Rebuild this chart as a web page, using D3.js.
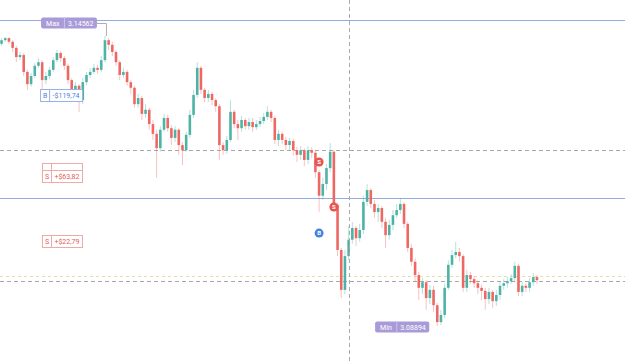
<!DOCTYPE html>
<html>
<head>
<meta charset="utf-8">
<script src="https://cdn.jsdelivr.net/npm/d3@7"></script>
<style>
  body { margin: 0; background: #fff; }
  svg { display: block; font-family: Roboto, "Noto Sans", sans-serif; }
</style>
</head>
<body>
<svg width="625" height="363"></svg>
<script>
// OHLC, one entry per candle
const open = [
  3.1441,3.1448,3.1452,3.1445,3.1433,3.1415,3.1419,3.1386,3.1362,3.1378,
  3.1398,3.1405,3.1370,3.1378,3.1390,3.1409,3.1423,3.1413,3.1398,3.1370,
  3.1351,3.1359,3.1331,3.1366,3.1380,3.1386,3.1394,3.1390,3.1409,3.1448,
  3.1439,3.1425,3.1405,3.1380,3.1386,3.1366,3.1355,3.1323,3.1335,3.1304,
  3.1312,3.1284,3.1265,3.1237,3.1273,3.1296,3.1276,3.1257,3.1273,3.1243,
  3.1233,3.1263,3.1302,3.1341,3.1394,3.1351,3.1335,3.1343,3.1331,3.1319,
  3.1243,3.1233,3.1253,3.1308,3.1284,3.1276,3.1292,3.1280,3.1288,3.1278,
  3.1284,3.1290,3.1298,3.1308,3.1296,3.1253,3.1265,3.1253,3.1243,3.1251,
  3.1233,3.1224,3.1233,3.1214,3.1233,3.1228,3.1190,3.1144,3.1167,3.1198,
  3.1230,3.1126,3.1038,3.0960,3.1026,3.1058,3.1081,3.1061,3.1077,3.1132,
  3.1155,3.1128,3.1112,3.1120,3.1093,3.1067,3.1087,3.1106,3.1116,3.1128,
  3.1089,3.1042,3.1015,3.0989,3.0964,3.0975,3.0944,3.0960,3.0930,3.0897,
  3.0911,3.0964,3.1009,3.1028,3.1034,3.1026,3.0964,3.0989,3.0981,3.0973,
  3.0964,3.0958,3.0942,3.0956,3.0938,3.0950,3.0968,3.0973,3.0977,3.0983,
  3.1007,3.0956,3.0968,3.0964,3.0975,3.0985
];
const high = [
  3.1452,3.1454,3.1454,3.1448,3.1437,3.1425,3.1423,3.1390,3.1384,3.1403,
  3.1413,3.1409,3.1386,3.1396,3.1415,3.1429,3.1427,3.1417,3.1402,3.1374,
  3.1366,3.1362,3.1374,3.1386,3.1394,3.1402,3.1400,3.1417,3.14562,3.1452,
  3.1445,3.1429,3.1409,3.1394,3.1390,3.1370,3.1359,3.1343,3.1339,3.1323,
  3.1316,3.1292,3.1273,3.1280,3.1304,3.1302,3.1282,3.1280,3.1276,3.1249,
  3.1269,3.1312,3.1351,3.1405,3.1398,3.1355,3.1351,3.1347,3.1335,3.1323,
  3.1249,3.1261,3.1331,3.1312,3.1292,3.1300,3.1296,3.1296,3.1296,3.1292,
  3.1298,3.1306,3.1319,3.1312,3.1300,3.1273,3.1269,3.1259,3.1257,3.1255,
  3.1239,3.1241,3.1237,3.1241,3.1239,3.1233,3.1194,3.1179,3.1206,3.1247,
  3.1233,3.1130,3.1042,3.1038,3.1085,3.1093,3.1085,3.1089,3.1144,3.1167,
  3.1159,3.1136,3.1128,3.1124,3.1101,3.1097,3.1116,3.1128,3.1140,3.1132,
  3.1093,3.1050,3.1022,3.0995,3.0983,3.0979,3.0970,3.0968,3.0934,3.0921,
  3.0972,3.1018,3.1038,3.1054,3.1042,3.1030,3.0999,3.0995,3.0987,3.0979,
  3.0970,3.0964,3.0964,3.0960,3.0960,3.0975,3.0981,3.0985,3.0991,3.1015,
  3.1011,3.0975,3.0973,3.0983,3.0993,3.0989
];
const low = [
  3.1437,3.1445,3.1441,3.1425,3.1405,3.1409,3.1378,3.1351,3.1357,3.1374,
  3.1394,3.1345,3.1362,3.1372,3.1386,3.1405,3.1405,3.1390,3.1362,3.1331,
  3.1341,3.1308,3.1323,3.1360,3.1374,3.1382,3.1382,3.1386,3.1405,3.1429,
  3.1417,3.1398,3.1370,3.1374,3.1359,3.1343,3.1316,3.1316,3.1292,3.1296,
  3.1273,3.1253,3.1179,3.1230,3.1269,3.1269,3.1243,3.1249,3.1224,3.1204,
  3.1230,3.1257,3.1296,3.1335,3.1343,3.1327,3.1327,3.1321,3.1308,3.1214,
  3.1224,3.1226,3.1249,3.1276,3.1253,3.1269,3.1273,3.1273,3.1269,3.1273,
  3.1278,3.1284,3.1292,3.1288,3.1245,3.1241,3.1245,3.1233,3.1233,3.1222,
  3.1210,3.1214,3.1202,3.1206,3.1218,3.1179,3.1112,3.1136,3.1155,3.1190,
  3.1116,3.1026,3.0944,3.0952,3.1018,3.1050,3.1046,3.1054,3.1069,3.1124,
  3.1120,3.1101,3.1093,3.1081,3.1042,3.1058,3.1077,3.1101,3.1108,3.1081,
  3.1034,3.1007,3.0975,3.0940,3.0952,3.0921,3.0932,3.0917,3.08894,3.0891,
  3.0905,3.0960,3.1003,3.1022,3.1015,3.0956,3.0956,3.0972,3.0964,3.0952,
  3.0940,3.0921,3.0932,3.0925,3.0929,3.0940,3.0960,3.0964,3.0972,3.0975,
  3.0948,3.0948,3.0956,3.0956,3.0968,3.0972
];
const close = [
  3.1448,3.1452,3.1445,3.1433,3.1415,3.1419,3.1386,3.1362,3.1378,3.1398,
  3.1405,3.1370,3.1378,3.1390,3.1409,3.1423,3.1413,3.1398,3.1370,3.1351,
  3.1359,3.1331,3.1366,3.1380,3.1386,3.1394,3.1390,3.1409,3.1448,3.1439,
  3.1425,3.1405,3.1380,3.1386,3.1366,3.1355,3.1323,3.1335,3.1304,3.1312,
  3.1284,3.1265,3.1237,3.1273,3.1296,3.1276,3.1257,3.1273,3.1243,3.1233,
  3.1263,3.1302,3.1341,3.1394,3.1351,3.1335,3.1343,3.1331,3.1319,3.1243,
  3.1233,3.1253,3.1308,3.1284,3.1276,3.1292,3.1280,3.1288,3.1278,3.1284,
  3.1290,3.1298,3.1308,3.1296,3.1253,3.1265,3.1253,3.1243,3.1251,3.1233,
  3.1224,3.1233,3.1214,3.1233,3.1228,3.1190,3.1144,3.1167,3.1198,3.1230,
  3.1126,3.1038,3.0960,3.1026,3.1058,3.1081,3.1061,3.1077,3.1132,3.1155,
  3.1128,3.1112,3.1120,3.1093,3.1067,3.1087,3.1106,3.1116,3.1128,3.1089,
  3.1042,3.1015,3.0989,3.0964,3.0975,3.0944,3.0960,3.0930,3.0897,3.0911,
  3.0964,3.1009,3.1028,3.1034,3.1026,3.0964,3.0989,3.0981,3.0973,3.0964,
  3.0958,3.0942,3.0956,3.0938,3.0950,3.0968,3.0973,3.0977,3.0983,3.1007,
  3.0956,3.0968,3.0964,3.0975,3.0985,3.0979
];

// horizontal levels
const alertLevels = [3.1488, 3.1140];
const orderLevels = [3.1233, 3.0977];
const lastPrice = 3.0987;
const crosshairIndex = 94;

// open positions (P&L tags on the left); stack = tags piled on one level
const positionSide = ["B", "S", "S"];
const positionPnl = ["-$119,74", "+$63,82", "+$22,79"];
const positionPrice = [3.1341, 3.1183, 3.1056];
const positionStack = [1, 2, 1];

// executions drawn on the bars
const tradeSide = ["S", "S", "B"];
const tradeIndex = [86, 90, 86];
const tradePrice = [3.1210, 3.1122, 3.1071];

const svg = d3.select("svg"),
  width = +svg.attr("width"),
  height = +svg.attr("height");

const data = close.map((c, i) => ({ i, o: open[i], h: high[i], l: low[i], c }));

const x = d3.scaleBand()
  .domain(data.map(d => d.i))
  .range([-0.85, 539.35])
  .padding(0.3);
const cx = i => x(i) + x.bandwidth() / 2;

const y = d3.scaleLinear()
  .domain([d3.min(low), d3.max(high)])
  .range([326, 36]);

const upColor = "#4cb3a5", downColor = "#ee6763";
const candleColor = d => (d.c >= d.o ? upColor : downColor);

svg.append("rect").attr("width", width).attr("height", height).attr("fill", "#fff");

// levels
const levels = svg.append("g");
levels.selectAll(".alert").data(alertLevels).join("line")
  .attr("x1", 0).attr("x2", width)
  .attr("y1", d => Math.round(y(d)) + 0.5).attr("y2", d => Math.round(y(d)) + 0.5)
  .attr("stroke", "#92acdf").attr("stroke-width", 1);
levels.selectAll(".order").data(orderLevels).join("line")
  .attr("x1", 0).attr("x2", width)
  .attr("y1", d => Math.round(y(d)) + 0.5).attr("y2", d => Math.round(y(d)) + 0.5)
  .attr("stroke", "#a8a8a8").attr("stroke-dasharray", "4,3");
levels.append("line")
  .attr("x1", 0).attr("x2", width)
  .attr("y1", Math.round(y(lastPrice)) + 0.5).attr("y2", Math.round(y(lastPrice)) + 0.5)
  .attr("stroke", "#ecdcaa").attr("stroke-dasharray", "3,3");

// candles
const candle = svg.append("g").selectAll("g").data(data).join("g");
candle.append("line")
  .attr("x1", d => cx(d.i)).attr("x2", d => cx(d.i))
  .attr("y1", d => y(d.h)).attr("y2", d => y(d.l))
  .attr("stroke", candleColor).attr("stroke-opacity", 0.4);
candle.append("rect")
  .attr("x", d => x(d.i))
  .attr("width", x.bandwidth())
  .attr("y", d => y(Math.max(d.o, d.c)))
  .attr("height", d => Math.max(1, Math.abs(y(d.o) - y(d.c))))
  .attr("fill", candleColor);

// crosshair
svg.append("line")
  .attr("x1", Math.round(cx(crosshairIndex)) + 0.5).attr("x2", Math.round(cx(crosshairIndex)) + 0.5)
  .attr("y1", 0).attr("y2", height)
  .attr("stroke", "#ababab").attr("stroke-dasharray", "4,3");

// Max / Min tags
const extremeTag = (name, value, right, cy) => {
  const g = svg.append("g");
  const t1 = g.append("text").text(name).attr("font-size", 7).attr("fill", "#fff").attr("y", cy + 2.5);
  const t2 = g.append("text").text(value).attr("font-size", 7).attr("fill", "#fff").attr("y", cy + 2.5);
  const w1 = t1.node().getComputedTextLength() + 10;
  const w2 = t2.node().getComputedTextLength() + 7;
  const left = right - w1 - w2;
  g.insert("rect", "text")
    .attr("x", left).attr("y", cy - 5.5).attr("width", w1 + w2).attr("height", 11)
    .attr("rx", 2).attr("fill", "#a99bd7");
  g.insert("line", "text")
    .attr("x1", left + w1).attr("x2", left + w1).attr("y1", cy - 5.5).attr("y2", cy + 5.5)
    .attr("stroke", "#cac2ec").attr("stroke-width", 1);
  t1.attr("x", left + 5);
  t2.attr("x", left + w1 + 3.5);
};

const maxIdx = d3.maxIndex(high), minIdx = d3.minIndex(low);
const maxY = y(high[maxIdx]) - 13;
extremeTag("Max", high[maxIdx].toFixed(5), cx(maxIdx) - 8, maxY);
svg.append("path")
  .attr("d", `M${cx(maxIdx) - 8},${maxY + 0.5}H${cx(maxIdx) + 1.5}V${y(high[maxIdx])}`)
  .attr("fill", "none").attr("stroke", "#9a9a9a").attr("stroke-width", 0.8);
extremeTag("Min", low[minIdx].toFixed(5), cx(minIdx) - 8, y(low[minIdx]) + 1);

// position P&L tags
positionSide.forEach((side, k) => {
  const col = side === "B" ? "#4f7fd8" : "#e0605c";
  const border = side === "B" ? "#94b3eb" : "#eeaaa7";
  const cy = Math.round(y(positionPrice[k])) + 0.5;
  const right = 82.5;
  const g = svg.append("g");
  const t = g.append("text").text(positionPnl[k])
    .attr("font-size", 7).attr("fill", col).attr("y", cy + 2.5);
  const w = t.node().getComputedTextLength() + 6;
  const left = right - w - 9;
  // tags hidden behind this one only show their top edge
  for (let s = positionStack[k] - 1; s > 0; s--) {
    g.insert("rect", "text")
      .attr("x", left).attr("y", cy - 6 - 7 * s).attr("width", w + 9).attr("height", 12)
      .attr("fill", "#fff").attr("stroke", border);
    g.insert("line", "text")
      .attr("x1", left + 9).attr("x2", left + 9).attr("y1", cy - 6 - 7 * s).attr("y2", cy + 6 - 7 * s)
      .attr("stroke", border);
  }
  g.insert("rect", "text")
    .attr("x", left).attr("y", cy - 6).attr("width", w + 9).attr("height", 12)
    .attr("fill", "#fff").attr("stroke", border).attr("stroke-width", 1);
  g.append("line")
    .attr("x1", left + 9).attr("x2", left + 9).attr("y1", cy - 6).attr("y2", cy + 6)
    .attr("stroke", border);
  g.append("text").text(side)
    .attr("x", left + 4.5).attr("y", cy + 2.5).attr("text-anchor", "middle")
    .attr("font-size", 7).attr("fill", col);
  t.attr("x", left + 12);
});

// execution markers
const marker = svg.append("g").selectAll("g")
  .data(tradeSide.map((s, k) => ({ s, i: tradeIndex[k], p: tradePrice[k] })))
  .join("g")
  .attr("transform", d => `translate(${cx(d.i)},${y(d.p)})`);
marker.append("circle").attr("r", 4.5)
  .attr("fill", d => (d.s === "B" ? "#4483e2" : "#e9544f"));
marker.append("text").text(d => d.s)
  .attr("text-anchor", "middle").attr("y", 2.2)
  .attr("font-size", 6).attr("font-weight", "bold").attr("fill", "#fff");
</script>
</body>
</html>
